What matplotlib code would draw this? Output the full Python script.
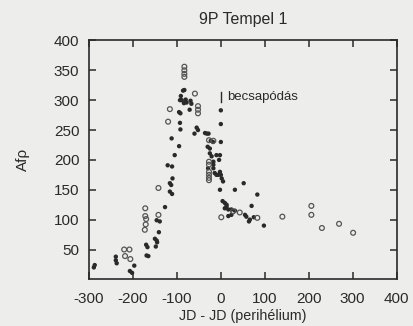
import matplotlib
matplotlib.use("Agg")
import matplotlib.pyplot as plt

plt.rcParams['font.family'] = ['Liberation Sans', 'DejaVu Sans']

# filled symbols (x: JD - JD(perihelion), y: Afrho)
filled_x = [-289, -287, -239, -239, -237, -197, -207, -202,
            -170, -167, -169, -165, -150, -146, -145, -148, -141,
            -146, -139, -127, -116, -113, -116, -111, -110, -121, -111,
            -105, -112, -95, -93, -92, -95, -92, -86, -83, -91, -93, -89,
            -80, -78, -84, -69, -67, -71, -55, -60, -52, -36, -32, -28,
            0, 0, 0, -23, -18, -30, -25, -25, -21, -10, -2, -4, -17, -17,
            -29, -17, -14, -10, -2, 0, -6, 2, 5, -2, 32, 52, 83, 4, 9, 13,
            9, 13, 17, 24, 32, 70, 17, 24, 55, 58, 66, 64, 75, 98]
filled_y = [20, 24, 38, 32, 27, 23, 14, 11,
            58, 54, 40, 39, 68, 65, 62, 55, 79,
            99, 97, 121, 161, 158, 147, 143, 169, 191, 189,
            208, 236, 223, 262, 251, 280, 278, 316, 317, 307, 300, 300,
            301, 296, 295, 299, 294, 284, 254, 244, 250, 245, 244, 244,
            283, 260, 230, 232, 230, 222, 219, 211, 206, 208, 208, 200, 197, 192,
            186, 186, 178, 175, 180, 175, 175, 169, 164, 150, 150, 161, 142, 131, 128, 125,
            119, 122, 117, 117, 115, 123, 106, 108, 108, 105, 100, 97, 104, 90]

# open symbols
open_x = [-220, -208, -218, -206, -172, -172, -170, -171, -173, -142, -142,
          -116, -120, -83, -83, -83, -83, -59, -52, -52, -52, -27, -17,
          -27, -27, -27, -27, -27, -27, 1, 28, 43, 83, 140, 206, 206, 230, 269, 301]
open_y = [50, 50, 39, 34, 119, 106, 101, 92, 83, 108, 153,
          285, 264, 356, 350, 344, 339, 311, 290, 284, 278, 233, 232,
          197, 192, 180, 175, 170, 166, 104, 114, 112, 103, 105, 123, 108, 86, 93, 78]

x_ticks = [-300, -200, -100, 0, 100, 200, 300, 400]
x_tick_labels = ["-300", "-200", "-100", "0", "100", "200", "300", "400"]
y_ticks = [50, 100, 150, 200, 250, 300, 350, 400]

title = "9P Tempel 1"
x_label = "JD - JD (perihélium)"
y_label = "Afρ"
impact_label = "becsapódás"

ink = '#2a2a2a'
bg = '#ededeb'

fig = plt.figure(figsize=(4.14, 3.26), dpi=100, facecolor=bg)
ax = fig.add_axes([0.215, 0.143, 0.743, 0.733])
ax.set_facecolor(bg)

ax.scatter(filled_x, filled_y, s=10, c=ink, edgecolors='none', zorder=3)
ax.scatter(open_x, open_y, s=12, facecolors='none', edgecolors='#555555',
           linewidths=0.9, zorder=3)

# impact marker
ax.plot([0, 0], [297, 314], color=ink, lw=1.0)
ax.text(14, 306, impact_label, fontsize=9.5, color=ink, va='center', ha='left')

ax.set_xlim(-300, 400)
ax.set_ylim(0, 400)
ax.set_xticks(x_ticks)
ax.set_xticklabels(x_tick_labels)
ax.set_yticks(y_ticks)
ax.tick_params(direction='in', length=5, width=1.1, color=ink, labelcolor=ink,
               labelsize=11, top=True, right=True)
ax.tick_params(axis='y', pad=7)
ax.tick_params(axis='x', pad=9)
for sp in ax.spines.values():
    sp.set_color(ink)
    sp.set_linewidth(1.2)

ax.set_title(title, fontsize=11.5, color=ink, pad=12)
ax.set_xlabel(x_label, fontsize=10.3, color=ink, labelpad=2)
ax.set_ylabel(y_label, fontsize=11, color=ink, labelpad=17)

fig.savefig("out.png", dpi=100, facecolor=bg)
